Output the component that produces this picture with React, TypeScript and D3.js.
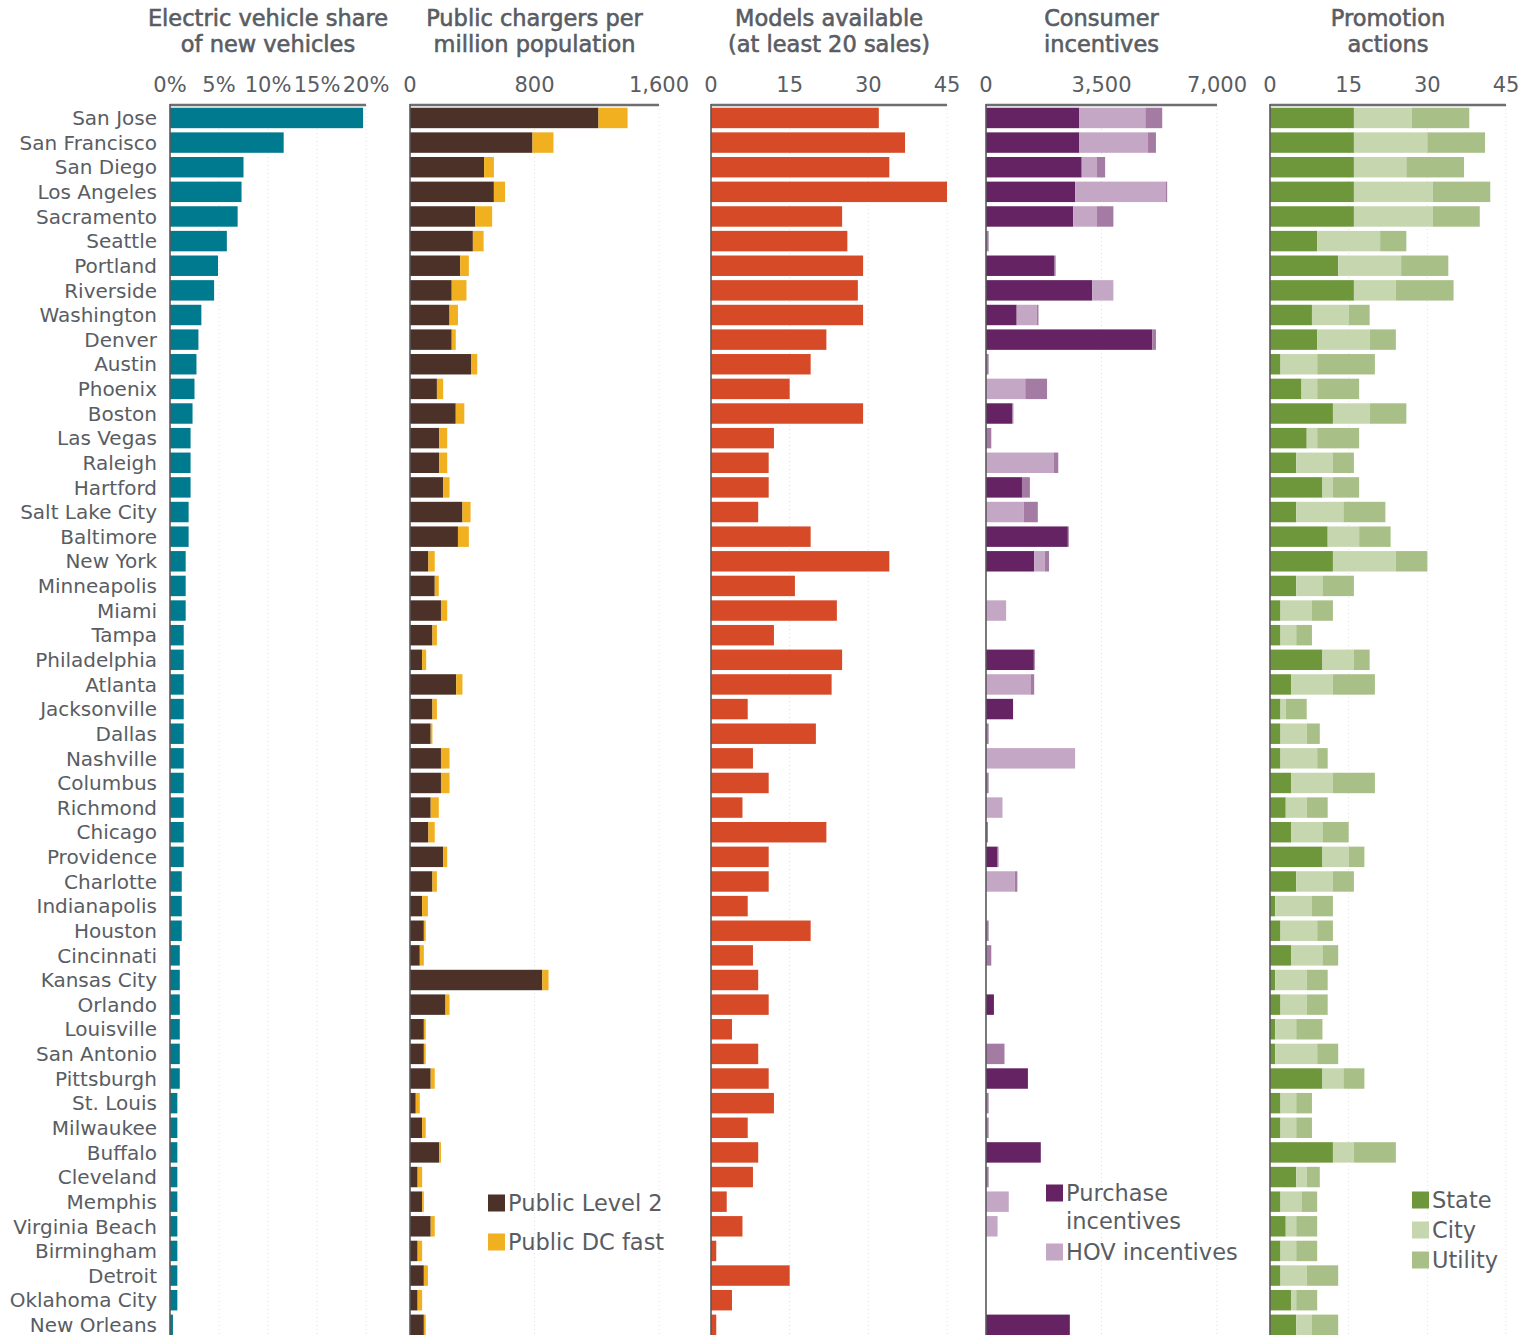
import React from 'react';
import * as d3 from 'd3';

const cities = [
  'San Jose', 'San Francisco', 'San Diego', 'Los Angeles', 'Sacramento', 'Seattle', 'Portland', 'Riverside',
  'Washington', 'Denver', 'Austin', 'Phoenix', 'Boston', 'Las Vegas', 'Raleigh', 'Hartford', 'Salt Lake City',
  'Baltimore', 'New York', 'Minneapolis', 'Miami', 'Tampa', 'Philadelphia', 'Atlanta', 'Jacksonville', 'Dallas',
  'Nashville', 'Columbus', 'Richmond', 'Chicago', 'Providence', 'Charlotte', 'Indianapolis', 'Houston',
  'Cincinnati', 'Kansas City', 'Orlando', 'Louisville', 'San Antonio', 'Pittsburgh', 'St. Louis', 'Milwaukee',
  'Buffalo', 'Cleveland', 'Memphis', 'Virginia Beach', 'Birmingham', 'Detroit', 'Oklahoma City', 'New Orleans',
];

// Electric vehicle share of new vehicles (%)
const evShare = [
  19.7, 11.6, 7.5, 7.3, 6.9, 5.8, 4.9, 4.5, 3.2, 2.9, 2.7, 2.5, 2.3, 2.1, 2.1, 2.1, 1.9,
  1.9, 1.6, 1.6, 1.6, 1.4, 1.4, 1.4, 1.4, 1.4, 1.4, 1.4, 1.4, 1.4, 1.4, 1.2, 1.2, 1.2,
  1.0, 1.0, 1.0, 1.0, 1.0, 1.0, 0.75, 0.75, 0.75, 0.75, 0.75, 0.75, 0.75, 0.75, 0.75, 0.3,
];

// Public chargers per million population
const chargersLevel2 = [
  1211, 787, 476, 539, 418, 404, 323, 268, 254, 268, 392, 173, 294, 187, 187, 213, 337,
  308, 118, 159, 199, 144, 78, 297, 144, 133, 199, 199, 133, 118, 213, 144, 78, 89,
  63, 850, 228, 89, 89, 133, 37, 78, 187, 49, 78, 133, 49, 89, 49, 89,
];
const chargersDCFast = [
  187, 135, 63, 72, 110, 69, 55, 95, 54, 26, 40, 40, 55, 52, 52, 41, 52,
  70, 41, 26, 40, 29, 26, 40, 29, 11, 55, 55, 52, 41, 26, 29, 37, 12,
  26, 40, 26, 12, 12, 26, 26, 23, 12, 29, 11, 26, 29, 26, 29, 12,
];

// Models available (at least 20 sales)
const modelsAvailable = [
  32, 37, 34, 45, 25, 26, 29, 28, 29, 22, 19, 15, 29, 12, 11, 11, 9,
  19, 34, 16, 24, 12, 25, 23, 7, 20, 8, 11, 6, 22, 11, 11, 7, 19,
  8, 9, 11, 4, 9, 11, 12, 7, 9, 8, 3, 6, 1, 15, 4, 1,
];

// Consumer incentives ($)
const purchaseIncentives = [
  2830, 2830, 2900, 2700, 2640, 0, 2060, 3220, 930, 5040, 0, 0, 800, 0, 0, 1090, 0,
  2480, 1460, 0, 0, 0, 1450, 0, 820, 0, 0, 0, 0, 0, 350, 0, 0, 0,
  0, 0, 240, 0, 0, 1270, 0, 0, 1660, 0, 0, 0, 0, 0, 0, 2540,
];
const hovIncentives = [
  2000, 2080, 450, 2740, 710, 0, 0, 640, 610, 0, 0, 1190, 0, 0, 2060, 0, 1140,
  0, 320, 0, 610, 0, 0, 1350, 0, 0, 2700, 0, 500, 0, 0, 870, 0, 0,
  0, 0, 0, 0, 0, 0, 0, 0, 0, 0, 690, 350, 0, 0, 0, 0,
];
const otherIncentives = [
  510, 240, 260, 50, 510, 80, 50, 0, 50, 110, 80, 660, 30, 160, 130, 240, 430,
  30, 130, 0, 0, 0, 30, 110, 0, 80, 0, 80, 0, 60, 30, 80, 0, 80,
  160, 0, 0, 0, 560, 0, 80, 80, 0, 80, 0, 0, 0, 0, 0, 0,
];

// Promotion actions
const promoState = [
  16, 16, 16, 16, 16, 9, 13, 16, 8, 9, 2, 6, 12, 7, 5, 10, 5,
  11, 12, 5, 2, 2, 10, 4, 2, 2, 2, 4, 3, 4, 10, 5, 1, 2,
  4, 1, 2, 1, 1, 10, 2, 2, 12, 5, 2, 3, 2, 2, 4, 5,
];
const promoCity = [
  11, 14, 10, 15, 15, 12, 12, 8, 7, 10, 7, 3, 7, 2, 7, 2, 9,
  6, 12, 5, 6, 3, 6, 8, 1, 5, 7, 8, 4, 6, 5, 7, 7, 7,
  6, 6, 5, 4, 8, 4, 3, 3, 4, 2, 4, 2, 3, 5, 1, 3,
];
const promoUtility = [
  11, 11, 11, 11, 9, 5, 9, 11, 4, 5, 11, 8, 7, 8, 4, 5, 8,
  6, 6, 6, 4, 3, 3, 8, 4, 2.5, 2, 8, 4, 5, 3, 4, 4, 3,
  3, 4, 4, 5, 4, 4, 3, 3, 8, 2.5, 3, 4, 4, 6, 4, 5,
];

const evTicks = [0, 5, 10, 15, 20];
const chargerTicks = [0, 800, 1600];
const modelTicks = [0, 15, 30, 45];
const incentiveTicks = [0, 3500, 7000];
const promoTicks = [0, 15, 30, 45];

const W = 1527;
const H = 1335;
const FONT = '"DejaVu Sans", sans-serif';
const TEXT = '#595d63';
const AXIS_Y = 105;

type Series = { key: string; label: string; color: string; values: number[] };
type Panel = {
  title: [string, string];
  domain: [number, number];
  range: [number, number];
  ticks: number[];
  fmt: (v: number) => string;
  series: Series[];
};

const panels: Panel[] = [
  {
    title: ['Electric vehicle share', 'of new vehicles'],
    domain: [0, 20], range: [170, 366], ticks: evTicks, fmt: (v) => `${v}%`,
    series: [{ key: 'ev', label: 'EV share', color: '#007a8e', values: evShare }],
  },
  {
    title: ['Public chargers per', 'million population'],
    domain: [0, 1600], range: [410, 659], ticks: chargerTicks, fmt: d3.format(','),
    series: [
      { key: 'l2', label: 'Public Level 2', color: '#4b3128', values: chargersLevel2 },
      { key: 'dc', label: 'Public DC fast', color: '#f0b01f', values: chargersDCFast },
    ],
  },
  {
    title: ['Models available', '(at least 20 sales)'],
    domain: [0, 45], range: [711, 947], ticks: modelTicks, fmt: d3.format(','),
    series: [{ key: 'models', label: 'Models', color: '#d64a27', values: modelsAvailable }],
  },
  {
    title: ['Consumer', 'incentives'],
    domain: [0, 7000], range: [986, 1217], ticks: incentiveTicks, fmt: d3.format(','),
    series: [
      { key: 'purchase', label: 'Purchase incentives', color: '#652363', values: purchaseIncentives },
      { key: 'hov', label: 'HOV incentives', color: '#c4a7c4', values: hovIncentives },
      { key: 'other', label: 'Other', color: '#a47ba3', values: otherIncentives },
    ],
  },
  {
    title: ['Promotion', 'actions'],
    domain: [0, 45], range: [1270, 1506], ticks: promoTicks, fmt: d3.format(','),
    series: [
      { key: 'state', label: 'State', color: '#6e963a', values: promoState },
      { key: 'city', label: 'City', color: '#c6d7b0', values: promoCity },
      { key: 'utility', label: 'Utility', color: '#a8c088', values: promoUtility },
    ],
  },
];

const ROW_START = 106.5;
const y = d3
  .scaleBand<string>()
  .domain(cities)
  .range([ROW_START, ROW_START + 24.63 * 49.93])
  .paddingInner(0.17)
  .paddingOuter(0.05);

function PanelView({ p }: { p: Panel }) {
  const x = d3.scaleLinear().domain(p.domain).range(p.range);
  const rows = cities.map((c, i) => {
    const r: Record<string, any> = { city: c };
    p.series.forEach((s) => (r[s.key] = s.values[i]));
    return r;
  });
  const stacked = d3.stack<Record<string, any>>().keys(p.series.map((s) => s.key))(rows);
  const cx = (p.range[0] + p.range[1]) / 2;
  return (
    <g>
      <text x={cx} y={26} textAnchor="middle" fontSize={22.5} fill={TEXT} stroke={TEXT} strokeWidth={0.6} fontFamily={FONT}>
        {p.title[0]}
      </text>
      <text x={cx} y={52} textAnchor="middle" fontSize={22.5} fill={TEXT} stroke={TEXT} strokeWidth={0.6} fontFamily={FONT}>
        {p.title[1]}
      </text>
      {p.ticks.map((t) => (
        <text key={t} x={x(t)} y={92} textAnchor="middle" fontSize={21} fill={TEXT} fontFamily={FONT}>
          {p.fmt(t)}
        </text>
      ))}
      {p.ticks.filter((t) => t > 0).map((t) => (
        <line key={'g' + t} x1={x(t)} x2={x(t)} y1={AXIS_Y} y2={H} stroke="#dedede" strokeWidth={1} strokeDasharray="1,3" />
      ))}
      {stacked.map((layer, li) => (
        <g key={layer.key} fill={p.series[li].color}>
          {layer.map((d, i) =>
            d[1] - d[0] > 0 ? (
              <rect key={i} x={x(d[0])} y={y(cities[i])} width={x(d[1]) - x(d[0])} height={y.bandwidth()} />
            ) : null
          )}
        </g>
      ))}
      <line x1={x(0)} x2={p.range[1]} y1={AXIS_Y} y2={AXIS_Y} stroke="#6d6e71" strokeWidth={2.5} />
      <line x1={x(0)} x2={x(0)} y1={AXIS_Y - 1} y2={H} stroke="#58595b" strokeWidth={1.6} />
    </g>
  );
}

function Legend({ x, items }: { x: number; items: { color: string; lines: string[]; y: number }[] }) {
  return (
    <g>
      {items.map((it, i) => (
        <g key={i}>
          <rect x={x} y={it.y - 8.5} width={17} height={17} fill={it.color} />
          {it.lines.map((ln, j) => (
            <text key={j} x={x + 20} y={it.y + j * 28} dy="0.36em" fontSize={22.5} fill={TEXT} fontFamily={FONT}>
              {ln}
            </text>
          ))}
        </g>
      ))}
    </g>
  );
}

export default function App() {
  return (
    <svg width={W} height={H} style={{ position: 'absolute', left: 0, top: 0, background: '#fff' }}>
      <rect width={W} height={H} fill="#fff" />
      {cities.map((c) => (
        <text key={c} x={157} y={(y(c) as number) + y.bandwidth() / 2} dy="0.36em" textAnchor="end" fontSize={20} fill={TEXT} fontFamily={FONT}>
          {c}
        </text>
      ))}
      {panels.map((p, i) => (
        <PanelView key={i} p={p} />
      ))}
      <Legend
        x={488}
        items={[
          { color: panels[1].series[0].color, lines: [panels[1].series[0].label], y: 1203 },
          { color: panels[1].series[1].color, lines: [panels[1].series[1].label], y: 1242 },
        ]}
      />
      <Legend
        x={1046}
        items={[
          { color: panels[3].series[0].color, lines: ['Purchase', 'incentives'], y: 1193 },
          { color: panels[3].series[1].color, lines: [panels[3].series[1].label], y: 1252 },
        ]}
      />
      <Legend
        x={1412}
        items={[
          { color: panels[4].series[0].color, lines: [panels[4].series[0].label], y: 1200 },
          { color: panels[4].series[1].color, lines: [panels[4].series[1].label], y: 1230 },
          { color: panels[4].series[2].color, lines: [panels[4].series[2].label], y: 1260 },
        ]}
      />
    </svg>
  );
}
